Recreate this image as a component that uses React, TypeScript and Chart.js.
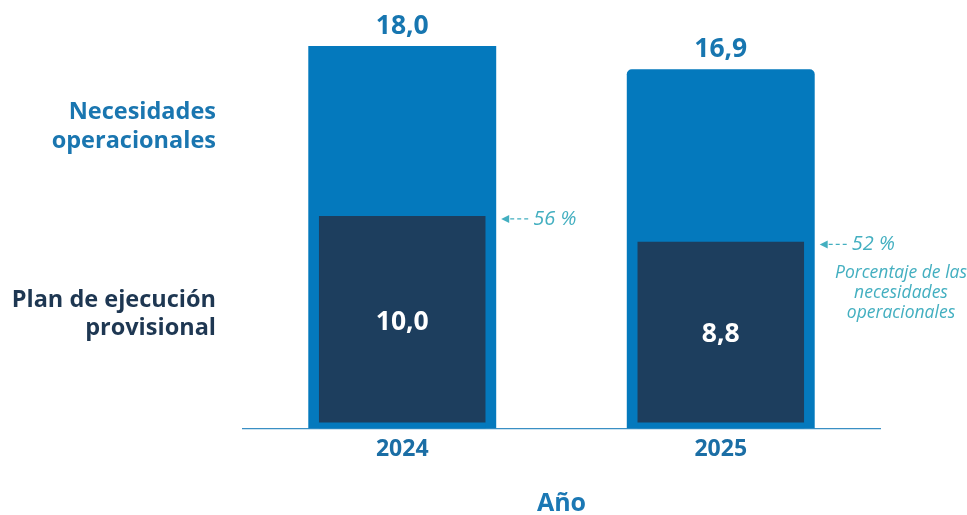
import React, { useEffect, useRef } from "react";
import { Chart, registerables } from "chart.js";

Chart.register(...registerables);

const categories = ["2024", "2025"];
const necesidades = [18.0, 16.9];
const plan = [10.0, 8.8];
const pctLabels = ["56 %", "52 %"];
const legendNec = ["Necesidades", "operacionales"];
const legendPlan = ["Plan de ejecución", "provisional"];
const noteLines = ["Porcentaje de las", "necesidades", "operacionales"];
const axisTitle = "Año";

const LIGHT = "#0479bd";
const DARK = "#1d3e5e";
const TEAL = "#43afc0";
const FONT = "'Open Sans', 'Noto Sans', sans-serif";

const fmt = (v: number) => v.toFixed(1).replace(".", ",");

const labelPlugin = {
  id: "labels",
  afterDatasetsDraw(chart: any) {
    const ctx = chart.ctx as CanvasRenderingContext2D;
    const darkMeta = chart.getDatasetMeta(0);
    const lightMeta = chart.getDatasetMeta(1);
    ctx.save();
    ctx.textAlign = "center";
    ctx.textBaseline = "middle";
    // top values
    ctx.font = `bold 26.5px ${FONT}`;
    ctx.fillStyle = "#1776b0";
    lightMeta.data.forEach((el: any, i: number) => {
      ctx.fillText(fmt(necesidades[i]), el.x, el.y - 20);
    });
    // inner values
    ctx.fillStyle = "#ffffff";
    darkMeta.data.forEach((el: any, i: number) => {
      ctx.fillText(fmt(plan[i]), el.x, (el.y + el.base) / 2);
    });
    // percentage arrows
    lightMeta.data.forEach((el: any, i: number) => {
      const d = darkMeta.data[i];
      const y = d.y + 3;
      const x0 = el.x + el.width / 2 + 5;
      ctx.fillStyle = TEAL;
      ctx.strokeStyle = TEAL;
      ctx.beginPath();
      ctx.moveTo(x0, y);
      ctx.lineTo(x0 + 8, y - 4);
      ctx.lineTo(x0 + 8, y + 4);
      ctx.closePath();
      ctx.fill();
      ctx.lineWidth = 1.3;
      ctx.setLineDash([4, 3]);
      ctx.beginPath();
      ctx.moveTo(x0 + 9, y);
      ctx.lineTo(x0 + 29, y);
      ctx.stroke();
      ctx.setLineDash([]);
      ctx.font = `italic 20px ${FONT}`;
      ctx.textAlign = "left";
      ctx.fillText(pctLabels[i], x0 + 32, y);
      ctx.textAlign = "center";
      if (i === lightMeta.data.length - 1) {
        ctx.font = `italic 17.5px ${FONT}`;
        noteLines.forEach((t, k) => {
          ctx.fillText(t, 901, y + 29 + k * 20);
        });
      }
    });
    // left legend labels
    ctx.textAlign = "right";
    ctx.font = `bold 23.5px ${FONT}`;
    ctx.fillStyle = "#1a76b0";
    legendNec.forEach((t, k) => ctx.fillText(t, 216, 112 + k * 29));
    ctx.fillStyle = "#1e3752";
    legendPlan.forEach((t, k) => ctx.fillText(t, 216, 300 + k * 28));
    ctx.restore();
  },
};

export default function App() {
  const ref = useRef<HTMLCanvasElement | null>(null);
  useEffect(() => {
    if (!ref.current) return;
    const chart = new Chart(ref.current, {
      type: "bar",
      data: {
        labels: categories,
        datasets: [
          {
            label: "Plan de ejecución provisional",
            data: plan,
            backgroundColor: DARK,
            borderColor: LIGHT,
            borderWidth: { top: 0, left: 0, right: 0, bottom: 6 },
            borderSkipped: false,
            barPercentage: 0.524,
            categoryPercentage: 1,
            grouped: false,
          },
          {
            label: "Necesidades operacionales",
            data: necesidades,
            backgroundColor: LIGHT,
            borderWidth: 0,
            borderRadius: (c: any) => (c.dataIndex === 1 ? 5 : 0),
            barPercentage: 0.59,
            categoryPercentage: 1,
            grouped: false,
          },
        ],
      },
      options: {
        animation: false,
        responsive: false,
        layout: { padding: { left: 243, right: 87, top: 46, bottom: 0 } },
        plugins: { legend: { display: false }, tooltip: { enabled: false } },
        scales: {
          y: { display: false, min: 0, max: 18 },
          x: {
            grid: { display: false, drawTicks: false },
            border: { display: true, color: "#3a8fc4", width: 1.2 },
            ticks: {
              padding: 7,
              color: "#1b6ea5",
              font: { family: FONT, size: 23, weight: "bold" },
            },
            title: {
              display: true,
              text: axisTitle,
              color: "#1b78b4",
              font: { family: FONT, size: 25, weight: "bold" },
              padding: { top: 19, bottom: -4 },
            },
          },
        },
      },
      plugins: [labelPlugin],
    } as any);
    return () => chart.destroy();
  }, []);
  return (
    <div style={{ position: "fixed", left: 0, top: 0, width: 967, height: 515, background: "#fff" }}>
      <canvas ref={ref} width={967} height={515} style={{ width: 967, height: 515, display: "block" }} />
    </div>
  );
}
